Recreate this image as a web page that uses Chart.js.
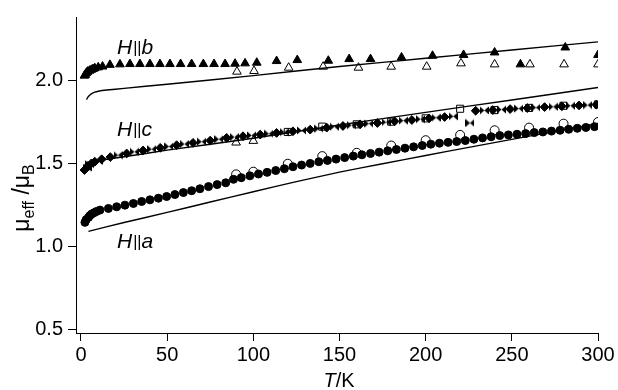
<!DOCTYPE html>
<html>
<head>
<meta charset="utf-8">
<script src="https://cdn.jsdelivr.net/npm/chart.js@4.4.0/dist/chart.umd.min.js"></script>
<style>
html, body { margin: 0; padding: 0; background: #fff; }
#wrap { width: 618px; height: 390px; }
</style>
</head>
<body>
<div id="wrap"><canvas id="muChart" width="618" height="390"></canvas></div>
<script>
// ========== DATA ==========
// H || b, filled triangles
const bTemp = [2, 2.5, 3, 3.5, 4, 5, 6, 7, 8, 10, 12.5, 16.8, 22.6, 28.4, 34.2, 40, 45.8, 51.6, 57.8, 64.2, 71, 77.2, 83.6, 89.4, 95.2, 102, 113.5, 125.5, 143.5, 155.6, 168, 186, 204, 222, 240, 255, 281, 300];
const bMu   = [2.03, 2.035, 2.045, 2.05, 2.055, 2.06, 2.065, 2.07, 2.075, 2.08, 2.085, 2.095, 2.098, 2.1, 2.1, 2.1, 2.1, 2.1, 2.1, 2.1, 2.1, 2.1, 2.1, 2.102, 2.104, 2.108, 2.118, 2.124, 2.12, 2.13, 2.13, 2.14, 2.15, 2.155, 2.17, 2.098, 2.2, 2.155];
// H || b, open triangles
const bOpenTemp = [90.5, 100.4, 120.5, 140.5, 161, 180, 200.6, 220.5, 240, 260.5, 280.3, 300];
const bOpenMu   = [2.054, 2.058, 2.078, 2.084, 2.078, 2.084, 2.084, 2.104, 2.098, 2.098, 2.098, 2.098];

// H || c, filled diamonds
const cTemp = [2, 3, 4, 6, 8, 12, 17, 26.5, 36, 46, 55.5, 65, 75, 84.5, 94, 104, 113.5, 123, 133, 142.6, 152, 162, 172, 182, 192, 202, 211, 229, 239, 249, 259, 269, 279, 289, 299];
const cMu   = [1.46, 1.47, 1.485, 1.5, 1.51, 1.525, 1.538, 1.56, 1.578, 1.594, 1.61, 1.624, 1.638, 1.654, 1.664, 1.674, 1.684, 1.694, 1.704, 1.716, 1.726, 1.736, 1.744, 1.754, 1.762, 1.772, 1.78, 1.818, 1.822, 1.828, 1.834, 1.84, 1.845, 1.85, 1.855];
// H || c, bow ties
const cTieTemp = [3.5, 5, 10, 21.5, 31, 41, 51, 60, 70, 80, 89, 99, 109, 118, 128, 138, 147, 157, 167, 177, 187, 197, 206, 216, 225.7, 234, 244, 254, 264, 274, 284, 294];
const cTieMu   = [1.475, 1.495, 1.515, 1.55, 1.57, 1.586, 1.602, 1.617, 1.631, 1.646, 1.659, 1.669, 1.679, 1.689, 1.699, 1.71, 1.721, 1.731, 1.74, 1.749, 1.758, 1.767, 1.776, 1.784, 1.744, 1.82, 1.825, 1.831, 1.837, 1.842, 1.848, 1.852];
// H || c, open squares and open triangles
const cSqTemp = [120, 140, 160, 180, 200, 220, 240, 260, 280, 300];
const cSqMu   = [1.69, 1.722, 1.736, 1.752, 1.772, 1.83, 1.822, 1.835, 1.848, 1.856];
const cTriTemp = [90, 100];
const cTriMu   = [1.626, 1.636];

// H || a, filled circles
const aTemp = [2.3, 3, 4.3, 5.2, 6.2, 7.5, 9, 11, 15.9, 20.7, 25.5, 30.4, 35.2, 40, 44.9, 49.7, 54.5, 59.4, 64.2, 69, 74, 79, 84, 88.5, 93, 98, 103, 108, 113, 118, 123, 128, 133, 138, 143, 148, 153, 158, 163, 168, 173, 178, 183, 188, 193, 198, 203, 208, 213, 218, 223, 228, 233, 238, 243, 248, 253, 258, 263, 268, 273, 278, 283, 288, 293, 298];
const aMu   = [1.144, 1.16, 1.174, 1.185, 1.194, 1.202, 1.21, 1.218, 1.228, 1.238, 1.248, 1.258, 1.27, 1.28, 1.29, 1.3, 1.312, 1.324, 1.335, 1.347, 1.36, 1.372, 1.383, 1.404, 1.414, 1.425, 1.436, 1.446, 1.457, 1.468, 1.48, 1.49, 1.5, 1.51, 1.518, 1.526, 1.535, 1.544, 1.552, 1.56, 1.568, 1.576, 1.584, 1.592, 1.6, 1.608, 1.616, 1.622, 1.627, 1.632, 1.638, 1.646, 1.654, 1.661, 1.668, 1.672, 1.676, 1.68, 1.686, 1.69, 1.695, 1.7, 1.706, 1.712, 1.717, 1.722];
// H || a, open circles
const aOpenTemp = [90, 100, 120, 140, 160, 180, 200, 220, 240, 260, 280, 300];
const aOpenMu   = [1.434, 1.45, 1.498, 1.544, 1.564, 1.608, 1.64, 1.672, 1.7, 1.716, 1.74, 1.75];

// calculated curves
const bLineTemp = [3.2, 4, 5, 6, 8, 10, 15, 25, 50, 100, 150, 200, 250, 300];
const bLineMu   = [1.885, 1.9, 1.912, 1.92, 1.93, 1.936, 1.943, 1.953, 1.978, 2.03, 2.085, 2.135, 2.185, 2.234];
const cLineTemp = [4, 6, 8, 10, 15, 25, 50, 100, 150, 200, 250, 300];
const cLineMu   = [1.49, 1.503, 1.51, 1.515, 1.525, 1.54, 1.58, 1.652, 1.732, 1.808, 1.883, 1.958];
const aLineTemp = [4.3, 25, 50, 75, 100, 125, 150, 175, 200, 225, 250, 275, 300];
const aLineMu   = [1.09, 1.143, 1.204, 1.267, 1.329, 1.39, 1.447, 1.498, 1.548, 1.597, 1.645, 1.693, 1.741];

// axes
const xTicks = [0, 50, 100, 150, 200, 250, 300];
const yTicks = [0.5, 1.0, 1.5, 2.0];
const seriesLabels = [
    { sub: 'b', t: 20.9, mu: 2.162 },
    { sub: 'c', t: 20.9, mu: 1.664 },
    { sub: 'a', t: 20.9, mu: 0.992 }
];

// ========== HELPERS ==========
function pts(xs, ys) {
    return xs.map((x, i) => ({ x: x, y: ys[i] }));
}

function makeBowtie() {
    const c = document.createElement('canvas');
    c.width = 9; c.height = 9;
    const g = c.getContext('2d');
    g.fillStyle = '#000';
    g.beginPath();
    g.moveTo(0, 0.5); g.lineTo(4.5, 4.5); g.lineTo(0, 8.5); g.closePath();
    g.moveTo(9, 0.5); g.lineTo(4.5, 4.5); g.lineTo(9, 8.5); g.closePath();
    g.fill();
    return c;
}
const bowtie = makeBowtie();

const FONT = '"Liberation Sans", Arial, Helvetica, sans-serif';

function marker(data, style, radius, filled) {
    return {
        data: data,
        pointStyle: style,
        pointRadius: radius,
        pointHoverRadius: radius,
        pointBorderWidth: 1,
        pointBorderColor: '#000',
        pointBackgroundColor: filled ? '#000' : 'rgba(0,0,0,0)',
        showLine: false
    };
}

function curve(data) {
    return {
        data: data,
        showLine: true,
        borderColor: '#000',
        borderWidth: 1.4,
        pointRadius: 0,
        pointHoverRadius: 0,
        tension: 0.2
    };
}

// ========== TEKS TAMBAHAN ==========
const textPlugin = {
    id: 'extraText',
    afterDraw(chart) {
        const ctx = chart.ctx;
        const xs = chart.scales.x, ys = chart.scales.y;
        ctx.save();
        ctx.fillStyle = '#000';
        ctx.textBaseline = 'alphabetic';
        ctx.textAlign = 'left';

        // H || b / c / a
        seriesLabels.forEach(l => {
            let px = xs.getPixelForValue(l.t);
            const py = ys.getPixelForValue(l.mu);
            ctx.font = 'italic 21px ' + FONT;
            ctx.fillText('H', px, py);
            px += ctx.measureText('H').width + 1;
            ctx.font = '16px ' + FONT;
            ctx.fillText('||', px, py - 1);
            px += ctx.measureText('||').width;
            ctx.font = 'italic 21px ' + FONT;
            ctx.fillText(l.sub, px, py);
        });

        // x title: T/K
        ctx.font = 'italic 20px ' + FONT;
        const wT = ctx.measureText('T').width;
        ctx.font = '20px ' + FONT;
        const wK = ctx.measureText('/K').width;
        let x0 = (xs.left + xs.right) / 2 - (wT + wK) / 2 + 2;
        ctx.font = 'italic 20px ' + FONT;
        ctx.fillText('T', x0, 387);
        ctx.font = '20px ' + FONT;
        ctx.fillText('/K', x0 + wT, 387);

        // y title: mu_eff / mu_B
        const parts = [
            { s: '\u03bc', f: '23px ', dy: 0 },
            { s: 'eff', f: '16px ', dy: 5 },
            { s: ' /\u03bc', f: '23px ', dy: 0 },
            { s: 'B', f: '16px ', dy: 5 }
        ];
        let total = 0;
        parts.forEach(p => { ctx.font = p.f + FONT; p.w = ctx.measureText(p.s).width; total += p.w; });
        ctx.translate(29, 198);
        ctx.rotate(-Math.PI / 2);
        let cx = -total / 2;
        parts.forEach(p => {
            ctx.font = p.f + FONT;
            ctx.fillText(p.s, cx, p.dy);
            cx += p.w;
        });
        ctx.restore();
    }
};

// ========== CHART ==========
const ctx = document.getElementById('muChart').getContext('2d');
new Chart(ctx, {
    type: 'scatter',
    data: {
        datasets: [
            marker(pts(bTemp, bMu), 'triangle', 5, true),
            marker(pts(cTemp, cMu), 'rectRot', 4.4, true),
            marker(pts(cTieTemp, cTieMu), bowtie, 4, true),
            marker(pts(aTemp, aMu), 'circle', 4, true),
            marker(pts(bOpenTemp, bOpenMu), 'triangle', 5, false),
            marker(pts(cSqTemp, cSqMu), 'rect', 5, false),
            marker(pts(cTriTemp, cTriMu), 'triangle', 5, false),
            marker(pts(aOpenTemp, aOpenMu), 'circle', 4.5, false),
            curve(pts(bLineTemp, bLineMu)),
            curve(pts(cLineTemp, cLineMu)),
            curve(pts(aLineTemp, aLineMu))
        ]
    },
    options: {
        responsive: false,
        animation: false,
        events: [],
        layout: { padding: { left: 0, right: 20, top: 15, bottom: 0 } },
        plugins: {
            legend: { display: false },
            tooltip: { enabled: false }
        },
        scales: {
            x: {
                type: 'linear',
                min: -2.9,
                max: 300,
                afterBuildTicks: s => { s.ticks = xTicks.map(v => ({ value: v })); },
                afterFit: s => { s.height = 57; },
                grid: { drawOnChartArea: false, drawTicks: true, tickLength: 8, tickColor: '#000', tickWidth: 1 },
                border: { display: true, color: '#000', width: 1 },
                ticks: { color: '#000', padding: 2, maxRotation: 0, font: { family: FONT, size: 20 }, callback: v => String(v) }
            },
            y: {
                type: 'linear',
                min: 0.476,
                max: 2.384,
                afterBuildTicks: s => { s.ticks = yTicks.map(v => ({ value: v })); },
                afterFit: s => { s.width = 76; },
                grid: { drawOnChartArea: false, drawTicks: true, tickLength: 8, tickColor: '#000', tickWidth: 1 },
                border: { display: true, color: '#000', width: 1 },
                ticks: { color: '#000', padding: 5, font: { family: FONT, size: 20 }, callback: v => v.toFixed(1) }
            }
        }
    },
    plugins: [textPlugin]
});
</script>
</body>
</html>
